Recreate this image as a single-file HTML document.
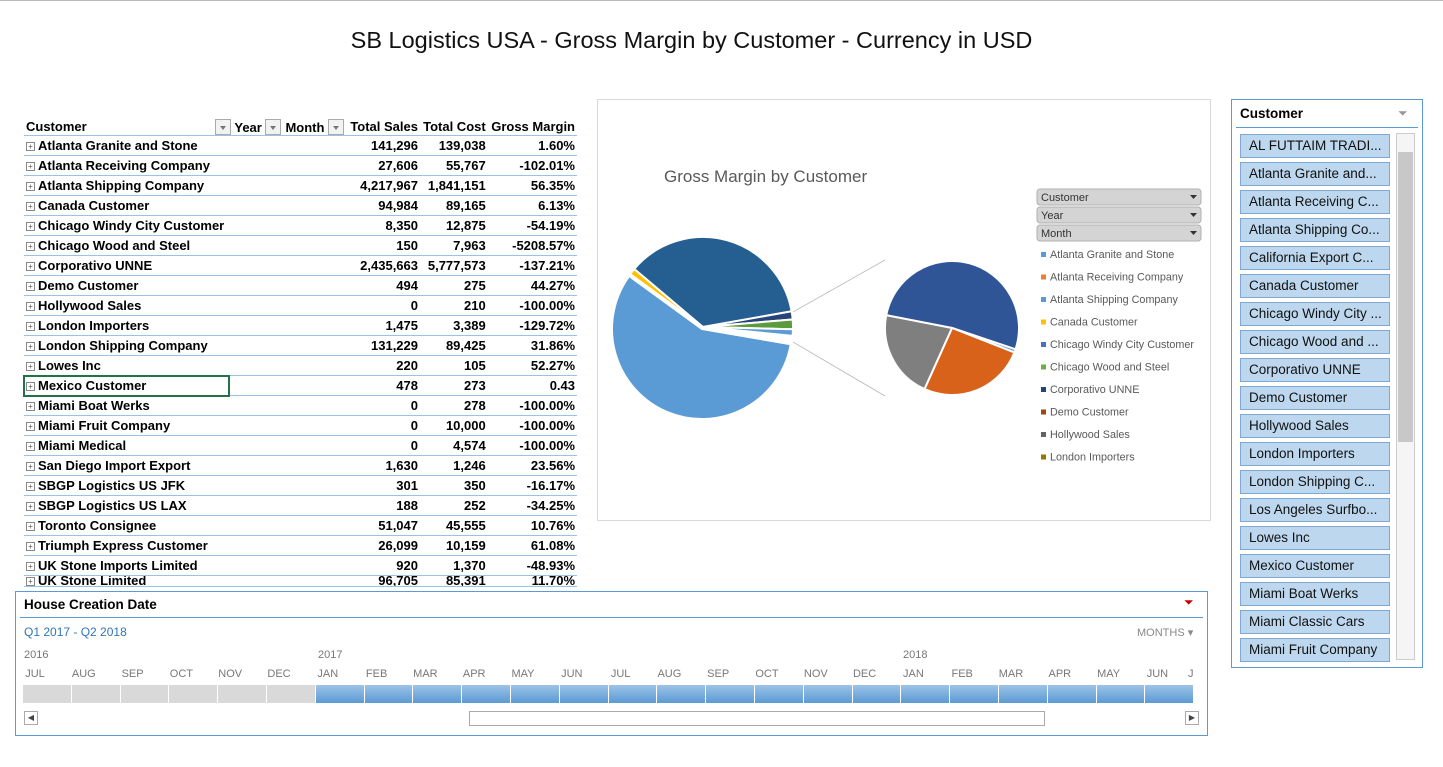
<!DOCTYPE html>
<html><head><meta charset="utf-8">
<style>
body{margin:0;width:1443px;height:767px;background:#fff;font-family:"Liberation Sans",sans-serif;position:relative;overflow:hidden}
.abs{position:absolute}
#topline{left:0;top:0;width:1443px;height:1px;background:#bbb}
#title{left:0;width:1383px;top:27px;text-align:center;font-size:23.5px;color:#111}
table{border-collapse:collapse;font-size:13px;font-weight:bold;color:#000}
#pivot{left:24px;top:119px;width:553px}
#pivot td{height:19px;padding:0 2px;border-bottom:1px solid #9bc2e6;white-space:nowrap}
#pivot td.n{text-align:right}
.plus{display:inline-block;width:7px;height:7px;border:1px solid #888;font-size:8px;line-height:7px;text-align:center;color:#555;margin-right:3px;vertical-align:1px;font-weight:normal}
.fb{display:inline-block;width:14px;height:14px;border:1px solid #aaa;background:#f2f2f2;vertical-align:-3px;position:relative}
.fb:after{content:"";position:absolute;left:4px;top:6px;border:3px solid transparent;border-top:4px solid #777}
#chartbox{left:597px;top:99px;width:612px;height:420px;border:1px solid #d9d9d9}
.slicer{border:1px solid #5b9bd5}
.item{position:absolute;left:8px;width:150px;height:24px;background:#bdd7ee;border:1px solid #7fa9d0;box-sizing:border-box;font-size:13.5px;line-height:22px;padding-left:8px;color:#111;white-space:nowrap;overflow:hidden}
.mon{position:absolute;top:668px;font-size:11px;color:#777;width:48px;text-align:center}
#pivot{clip-path:inset(0 0 -3px 0)}
#pivot tr:last-child td{height:10px;overflow:hidden;line-height:10px}
</style></head><body>
<div class="abs" id="topline"></div>
<div class="abs" id="title">SB Logistics USA - Gross Margin by Customer - Currency in USD</div>

<table class="abs" id="pivot">
<tr><td style="width:185px">Customer</td><td style="width:50px;white-space:nowrap"><span class="fb"></span> Year <span class="fb"></span></td><td>Month <span class="fb"></span></td><td class="n">Total Sales</td><td class="n">Total Cost</td><td class="n">Gross Margin</td></tr>
<tbody id="pbody"></tbody>
</table>
<div class="abs" style="left:23px;top:375px;width:207px;height:22px;border:2px solid #217346;box-sizing:border-box"></div>

<div class="abs" id="chartbox">
<svg width="612" height="420" id="pie">
<text x="66" y="82" font-size="17" fill="#595959" font-family="Liberation Sans">Gross Margin by Customer</text>
</svg>
</div>

<div class="abs slicer" style="left:1231px;top:99px;width:190px;height:567px">
<div class="abs" style="left:8px;top:6px;font-size:13.5px;font-weight:bold">Customer</div>
<div class="abs" style="left:166px;top:6px;font-size:12px;color:#999">⏷</div>
<div class="abs" style="left:4px;top:27px;width:182px;height:1px;background:#5b9bd5"></div>
<div id="items"></div>
<div class="abs" style="left:164px;top:33px;width:17px;height:525px;border:1px solid #ccc;background:#f5f5f5">
<div class="abs" style="left:1px;top:18px;width:15px;height:290px;background:#c8c8c8"></div>
</div>
</div>

<div class="abs slicer" style="left:15px;top:591px;width:1191px;height:143px">
<div class="abs" style="left:8px;top:5px;font-size:13.5px;font-weight:bold">House Creation Date</div>
<div class="abs" style="left:1168px;top:3px;font-size:12px;color:#c00">⏷</div>
<div class="abs" style="left:4px;top:25px;width:1183px;height:1px;background:#5b9bd5"></div>
<div class="abs" style="left:8px;top:33px;font-size:12px;color:#2e75b6">Q1 2017 - Q2 2018</div>
<div class="abs" style="left:1121px;top:34px;font-size:11px;color:#888">MONTHS ▾</div>
<div class="abs" style="left:8px;top:57px;font-size:11px;color:#777">2016</div>
<div class="abs" style="left:302px;top:57px;font-size:11px;color:#777">2017</div>
<div class="abs" style="left:887px;top:57px;font-size:11px;color:#777">2018</div>
<div class="abs" style="left:8px;top:119px;width:12px;height:12px;border:1px solid #aaa;font-size:8px;text-align:center;line-height:12px;color:#444">◀</div>
<div class="abs" style="left:453px;top:119px;width:574px;height:13px;border:1px solid #aaa"></div>
<div class="abs" style="left:1169px;top:119px;width:12px;height:12px;border:1px solid #aaa;font-size:8px;text-align:center;line-height:12px;color:#444">▶</div>
</div>
<div id="months"></div>

<script>
const customers=["Atlanta Granite and Stone","Atlanta Receiving Company","Atlanta Shipping Company","Canada Customer","Chicago Windy City Customer","Chicago Wood and Steel","Corporativo UNNE","Demo Customer","Hollywood Sales","London Importers","London Shipping Company","Lowes Inc","Mexico Customer","Miami Boat Werks","Miami Fruit Company","Miami Medical","San Diego Import Export","SBGP Logistics US JFK","SBGP Logistics US LAX","Toronto Consignee","Triumph Express Customer","UK Stone Imports Limited","UK Stone Limited"];
const sales=["141,296","27,606","4,217,967","94,984","8,350","150","2,435,663","494","0","1,475","131,229","220","478","0","0","0","1,630","301","188","51,047","26,099","920","96,705"];
const costs=["139,038","55,767","1,841,151","89,165","12,875","7,963","5,777,573","275","210","3,389","89,425","105","273","278","10,000","4,574","1,246","350","252","45,555","10,159","1,370","85,391"];
const margins=["1.60%","-102.01%","56.35%","6.13%","-54.19%","-5208.57%","-137.21%","44.27%","-100.00%","-129.72%","31.86%","52.27%","0.43","-100.00%","-100.00%","-100.00%","23.56%","-16.17%","-34.25%","10.76%","61.08%","-48.93%","11.70%"];
const pb=document.getElementById('pbody');
customers.forEach((c,i)=>{
 const tr=document.createElement('tr');
 
 
 tr.innerHTML='<td colspan="3"><span class="plus">+</span>'+c+'</td><td class="n">'+sales[i]+'</td><td class="n">'+costs[i]+'</td><td class="n">'+margins[i]+'</td>';
 pb.appendChild(tr);
});

const mainLabels=["Canada Customer","Corporativo UNNE","Chicago Windy City","Chicago Wood and Steel","Atlanta Granite and Stone","Other","Atlanta Shipping Company"];
const mainValues=[4,124,5,6,4,3,198];
const mainColors=["#ffc000","#255e91","#264478","#5b9b3b","#5b9bd5","#ffffff","#5b9bd5"];
const secLabels=["Corporativo UNNE","Small","Atlanta Receiving Company","Hollywood Sales"];
const secValues=[198,3,98,81];
const secColors=["#2f5597","#5b9bd5","#d9621a","#7f7f7f"];
const NS='http://www.w3.org/2000/svg';
const svg=document.getElementById('pie');
function arc(cx,cy,r,a0,a1,col,name){
 const t=v=>(v-90)*Math.PI/180;
 const x0=cx+r*Math.cos(t(a0)),y0=cy+r*Math.sin(t(a0)),x1=cx+r*Math.cos(t(a1)),y1=cy+r*Math.sin(t(a1));
 const p=document.createElementNS(NS,'path');
 p.setAttribute('d',`M${cx},${cy}L${x0},${y0}A${r},${r} 0 ${a1-a0>180?1:0} 1 ${x1},${y1}Z`);
 p.setAttribute('fill',col);p.setAttribute('stroke','#fff');p.setAttribute('stroke-width','2');
 
 
 svg.appendChild(p);
}
let tot=mainValues.reduce((a,b)=>a+b,0),a=306;
mainValues.forEach((v,i)=>{const d=v/tot*360;
 if(mainLabels[i]=="Atlanta Shipping Company"){arc(104,229,90,a+1,a+d,mainColors[i],'slice-main');}
 else if(mainLabels[i]!="Other") arc(105,227,90,a,a+d,mainColors[i],'slice-main');
 a+=d;});
let tot2=secValues.reduce((a,b)=>a+b,0),b=281;
secValues.forEach((v,i)=>{const d=v/tot2*360;arc(354,228,67,b,b+d,secColors[i],'slice-secondary');b+=d;});
[[195,212,287,160],[195,242,287,296]].forEach(l=>{const ln=document.createElementNS(NS,'line');
 ln.setAttribute('x1',l[0]);ln.setAttribute('y1',l[1]);ln.setAttribute('x2',l[2]);ln.setAttribute('y2',l[3]);
 ln.setAttribute('stroke','#bfbfbf');
 
 
 svg.appendChild(ln);});
["Customer","Year","Month"].forEach((f,i)=>{
 const g=document.createElementNS(NS,'g');
 
 
 g.innerHTML=`<rect x="439" y="${89+i*18}" width="164" height="16" rx="3" fill="#d4d4d4" stroke="#b0b0b0"/><text x="443" y="${101+i*18}" font-size="11" fill="#333" font-family="Liberation Sans">${f}</text><path d="M592,${95+i*18}l7,0l-3.5,4z" fill="#333"/>`;
 svg.appendChild(g);});
const legNames=["Atlanta Granite and Stone","Atlanta Receiving Company","Atlanta Shipping Company","Canada Customer","Chicago Windy City Customer","Chicago Wood and Steel","Corporativo UNNE","Demo Customer","Hollywood Sales","London Importers"];
const legColors=["#5b9bd5","#ed7d31","#5b9bd5","#ffc000","#4472c4","#70ad47","#264478","#9e480e","#636363","#997300"];
legNames.forEach((n,i)=>{const g=document.createElementNS(NS,'g');
 
 
 const y=158+i*22.5;
 g.innerHTML=`<rect x="443" y="${y-6}" width="5" height="5" fill="${legColors[i]}"/><text x="452" y="${y}" font-size="10.8" fill="#595959" font-family="Liberation Sans">${n}</text>`;
 svg.appendChild(g);});
const slItems=["AL FUTTAIM TRADI...","Atlanta Granite and...","Atlanta Receiving C...","Atlanta Shipping Co...","California Export C...","Canada Customer","Chicago Windy City ...","Chicago Wood and ...","Corporativo UNNE","Demo Customer","Hollywood Sales","London Importers","London Shipping C...","Los Angeles Surfbo...","Lowes Inc","Mexico Customer","Miami Boat Werks","Miami Classic Cars","Miami Fruit Company"];
const it=document.getElementById('items');
slItems.forEach((s,i)=>{const d=document.createElement('div');d.className='item';d.style.top=(34+i*28)+'px';d.textContent=s;
 
 
 it.appendChild(d);});
const months=["JUL","AUG","SEP","OCT","NOV","DEC","JAN","FEB","MAR","APR","MAY","JUN","JUL","AUG","SEP","OCT","NOV","DEC","JAN","FEB","MAR","APR","MAY","JUN","J"];
const mw=document.getElementById('months');
months.forEach((m,i)=>{const x=23+i*48.8;
 const l=document.createElement('div');l.className='mon';l.style.left=(x-12)+'px';l.textContent=m;
 if(i==24){l.style.left='1188px';l.style.width='10px';l.style.textAlign='left';}
 
 
 mw.appendChild(l);
 const c=document.createElement('div');c.className='abs';
 const w=i==24?Math.max(0,1191-x):47.8;
 c.style.cssText=`left:${x}px;top:685px;width:${w}px;height:18px;background:${i<6?'#d9d9d9':'linear-gradient(#9dc3e6,#5b9bd5)'}`;
 
 
 mw.appendChild(c);
});
</script>
</body></html>
